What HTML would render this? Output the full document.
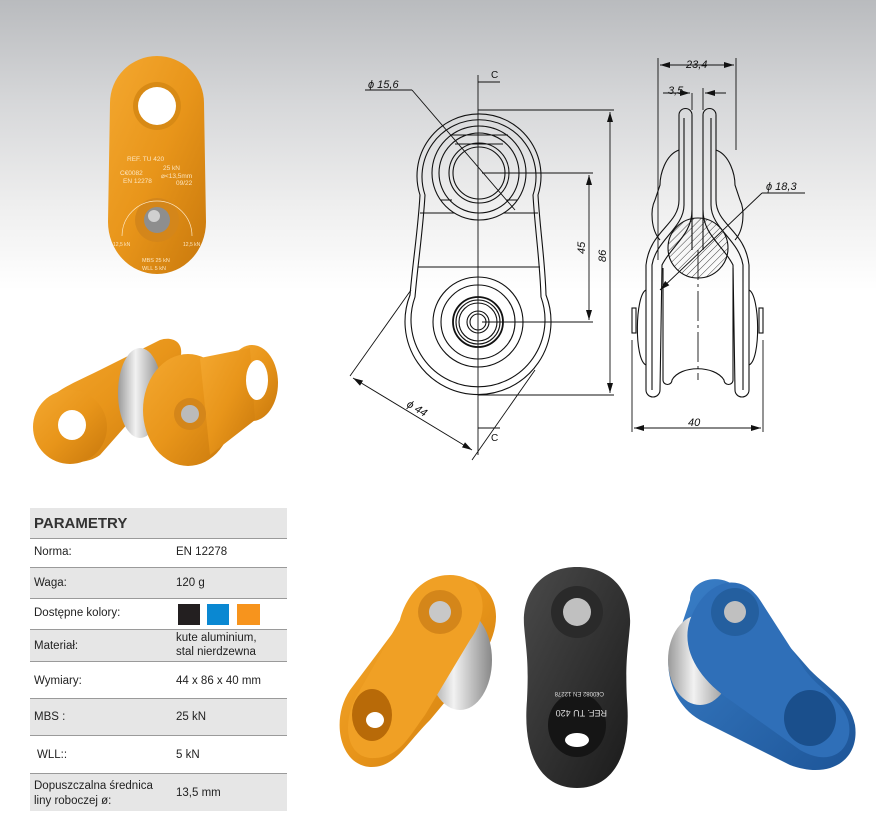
<!DOCTYPE html>
<html><head><meta charset="utf-8"><style>
html,body{margin:0;padding:0}
body{width:876px;height:817px;position:relative;overflow:hidden;background:#fff;font-family:"Liberation Sans",sans-serif}
.bg{position:absolute;left:0;top:0;width:876px;height:290px;background:linear-gradient(#b9bbbe 0%,#d6d7d9 35%,#eeeeee 70%,#ffffff 100%)}
svg{position:absolute;left:0;top:0}
.tbl{position:absolute;left:30px;top:508px;width:257px}
.r{position:absolute;left:0;width:257px;border-bottom:1px solid #9a9a9a;font-size:11.5px;color:#222}
.g{background:#e6e6e6}
.l{position:absolute;left:4px}
.v{position:absolute;left:146px}
</style></head><body>
<div class="bg"></div>
<svg width="876" height="817" viewBox="0 0 876 817">
<defs>
<linearGradient id="og" x1="0" y1="0" x2="1" y2="1"><stop offset="0" stop-color="#f4a830"/><stop offset="0.5" stop-color="#e8951a"/><stop offset="1" stop-color="#c8780c"/></linearGradient>
<linearGradient id="sg" x1="0" y1="0" x2="1" y2="0"><stop offset="0" stop-color="#9a9a9a"/><stop offset="0.4" stop-color="#f2f2f2"/><stop offset="1" stop-color="#888"/></linearGradient>
<linearGradient id="bg2" x1="0" y1="0" x2="1" y2="1"><stop offset="0" stop-color="#4a4a4a"/><stop offset="1" stop-color="#1a1a1a"/></linearGradient>
<linearGradient id="blg" x1="0" y1="0" x2="1" y2="1"><stop offset="0" stop-color="#3a7fc8"/><stop offset="1" stop-color="#1d5598"/></linearGradient>
<pattern id="hatch" width="5" height="5" patternUnits="userSpaceOnUse" patternTransform="rotate(45)"><line x1="0" y1="0" x2="0" y2="5" stroke="#111" stroke-width="0.8"/></pattern>
<marker id="ar" viewBox="0 0 10 6" refX="10" refY="3" markerWidth="10" markerHeight="6" orient="auto-start-reverse" markerUnits="userSpaceOnUse"><path d="M0,0 L10,3 L0,6z" fill="#111"/></marker>
</defs>

<!-- top orange pulley -->
<path d="M110,103 A47,47 0 0 1 204,103 L206,222 A49,52 0 0 1 108,222 Z" fill="url(#og)"/>
<circle cx="157" cy="106" r="24" fill="#d88a15"/>
<circle cx="157" cy="106" r="19" fill="#fff"/>
<circle cx="157" cy="220" r="22" fill="#d4861a"/>
<circle cx="157" cy="220" r="13" fill="#8e8e8e"/><circle cx="154" cy="216" r="6" fill="#d0d0d0"/>
<g fill="#fde6c0" font-size="6.5"><text x="127" y="161">REF. TU 420</text><text x="120" y="175">C€0082</text><text x="163" y="170">25 kN</text><text x="161" y="178">⌀&lt;13,5mm</text><text x="123" y="183">EN 12278</text><text x="176" y="185">09/22</text><text x="113" y="246" font-size="5">12,5 kN</text><text x="183" y="246" font-size="5">12,5 kN</text><text x="142" y="262" font-size="5.5">MBS 25 kN</text><text x="142" y="270" font-size="5.5">WLL 5 kN</text></g>
<path d="M122,236 A35,35 0 0 1 192,236" fill="none" stroke="#fde6c0" stroke-width="0.7"/>

<!-- side orange pulley -->
<path d="M40,420 C40,395 70,385 100,370 L160,340 C175,335 190,345 175,370 L100,455 C80,470 40,460 40,430Z" fill="url(#og)"/>
<circle cx="70" cy="427" r="37" fill="url(#og)"/>
<ellipse cx="72" cy="425" rx="14" ry="15" fill="#fff"/>
<ellipse cx="140" cy="393" rx="22" ry="45" fill="url(#sg)"/>
<ellipse cx="252" cy="383" rx="26" ry="38" fill="url(#og)"/>
<ellipse cx="188" cy="410" rx="45" ry="56" fill="url(#og)"/>
<path d="M200,358 L250,348 L255,420 L210,455Z" fill="url(#og)"/>
<ellipse cx="257" cy="380" rx="11" ry="20" fill="#fff"/>
<circle cx="190" cy="414" r="16" fill="#d4861a"/><circle cx="190" cy="414" r="9" fill="#bbb"/>

<!-- bottom orange -->
<path d="M350,690 C330,720 340,765 370,767 C395,768 405,745 430,720 L480,660 C505,625 500,590 470,580 C440,570 420,590 410,610Z" fill="url(#og)"/>
<ellipse cx="460" cy="660" rx="32" ry="50" fill="url(#sg)"/>
<path d="M360,690 C340,720 345,760 375,758 C400,757 410,735 425,715 L470,640 C495,605 480,575 450,575 C420,575 405,600 400,620Z" fill="#f0a025"/>
<circle cx="440" cy="612" r="22" fill="#d4861a"/><circle cx="440" cy="612" r="11" fill="#c8c8c8"/>
<ellipse cx="372" cy="715" rx="20" ry="26" fill="#b86a08"/>
<ellipse cx="375" cy="720" rx="9" ry="8" fill="#fff"/>
<!-- black -->
<path d="M577,567 C610,567 632,590 630,625 C628,650 625,660 627,700 C632,760 610,788 577,788 C544,788 522,760 527,700 C529,660 526,650 524,625 C522,590 544,567 577,567Z" fill="url(#bg2)"/>
<circle cx="577" cy="612" r="26" fill="#2a2a2a"/><circle cx="577" cy="612" r="14" fill="#c0c0c0"/>
<ellipse cx="577" cy="725" rx="29" ry="32" fill="#151515"/>
<ellipse cx="577" cy="740" rx="12" ry="7" fill="#fff"/>
<g fill="#ddd" font-size="9" transform="rotate(180 577 670)"><text x="547" y="630">REF. TU 420</text><text x="550" y="648" font-size="6">C€0082  EN 12278</text></g>
<!-- blue -->
<path d="M680,630 C660,650 665,700 700,720 L790,765 C830,780 860,760 855,725 C850,700 830,690 810,670 L740,590 C720,570 690,580 690,600Z" fill="url(#blg)"/>
<ellipse cx="700" cy="660" rx="32" ry="45" fill="url(#sg)"/>
<path d="M690,620 C680,650 700,680 730,700 L800,750 C835,770 855,745 848,720 C842,700 820,690 805,670 L760,600 C740,570 705,580 690,620Z" fill="#2f6fb8"/>
<circle cx="735" cy="612" r="24" fill="#245f9f"/><circle cx="735" cy="612" r="11" fill="#c0c0c0"/>
<ellipse cx="810" cy="718" rx="26" ry="28" fill="#1a4f8c"/>

<!-- front view drawing -->
<g fill="none" stroke="#111" stroke-width="1.1">
<path d="M420,195 A62,62 0 1 1 538,195 C540,230 545,260 546,295 A73,73 0 1 1 410,295 C413,260 418,230 420,195Z"/>
<path d="M425,195 A57,57 0 1 1 533,195 C535,230 540,262 541,297 A67,67 0 1 1 415,297 C418,262 423,230 425,195Z"/>
<circle cx="479" cy="173" r="47"/><circle cx="479" cy="173" r="40"/><circle cx="479" cy="173" r="26"/><circle cx="479" cy="173" r="30"/>
<path d="M420,213 L455,213 M503,213 L538,213 M441,200 L452,200 M506,200 L517,200 M450,135 L508,135 M455,144 L503,144"/>
<line x1="418" y1="267" x2="540" y2="267"/>
<circle cx="478" cy="322" r="45"/><circle cx="478" cy="322" r="37"/><circle cx="478" cy="322" r="25" stroke-width="1.8"/><circle cx="478" cy="322" r="22"/><circle cx="478" cy="322" r="19"/><circle cx="478" cy="322" r="11"/><circle cx="478" cy="322" r="8"/>
</g>
<g stroke="#111" stroke-width="0.9" fill="none">
<line x1="478" y1="75" x2="478" y2="455"/>
<line x1="478" y1="82" x2="500" y2="82"/><line x1="478" y1="428" x2="500" y2="428"/>
<line x1="365" y1="90" x2="412" y2="90"/><line x1="412" y1="90" x2="515" y2="210"/>
<line x1="478" y1="110" x2="614" y2="110"/><line x1="478" y1="395" x2="614" y2="395"/>
<line x1="610" y1="112" x2="610" y2="393" marker-start="url(#ar)" marker-end="url(#ar)"/>
<line x1="482" y1="173" x2="593" y2="173"/><line x1="482" y1="322" x2="593" y2="322"/>
<line x1="589" y1="175" x2="589" y2="320" marker-start="url(#ar)" marker-end="url(#ar)"/>
<line x1="411" y1="290" x2="350" y2="376"/><line x1="535" y1="370" x2="472" y2="460"/>
<line x1="353" y1="378" x2="472" y2="450" marker-start="url(#ar)" marker-end="url(#ar)"/>
</g>
<g font-size="11" font-style="italic" fill="#111">
<text x="368" y="88">ϕ 15,6</text>
<text x="491" y="78" font-style="normal" font-size="10">C</text><text x="491" y="441" font-style="normal" font-size="10">C</text>
<text transform="translate(606,262) rotate(-90)">86</text>
<text transform="translate(585,254) rotate(-90)">45</text>
<text transform="translate(406,406) rotate(31)">ϕ 44</text>
<text x="686" y="68">23,4</text><text x="668" y="94">3,5</text><text x="766" y="190">ϕ 18,3</text><text x="688" y="426">40</text>
</g>

<!-- side view drawing -->
<g fill="none" stroke="#111" stroke-width="1.1">
<path d="M679,115 A6,6 0 0 1 692,115 L692,210 C692,235 672,245 662,265 L660,390 A6,6 0 0 1 646,390 L646,265 C650,230 679,225 679,200Z"/>
<path d="M716,115 A6,6 0 0 0 703,115 L703,210 C703,235 723,245 733,265 L735,390 A6,6 0 0 0 749,390 L749,265 C745,230 716,225 716,200Z"/>
<path d="M684,118 L684,205 C684,228 656,240 652,265 L652,390 M711,118 L711,205 C711,228 739,240 743,265 L743,390"/>
<path d="M679,150 C665,155 660,175 660,185 L655,200 C650,210 651,230 660,240 M716,150 C730,155 735,175 735,185 L740,200 C745,210 744,230 735,240"/>
<path d="M663,268 L663,380 A4,4 0 0 0 672,380 C680,365 715,365 724,380 A4,4 0 0 0 733,380 L733,268"/>
<path d="M646,290 C635,295 634,360 646,365 M749,290 C760,295 761,360 749,365"/>
<rect x="632" y="308" width="4" height="25"/><rect x="759" y="308" width="4" height="25"/>
<path d="M692,250 L692,210 M703,250 L703,210"/>
</g>
<circle cx="698" cy="248" r="30" fill="url(#hatch)" stroke="#111" stroke-width="1.1"/>
<g stroke="#111" stroke-width="0.9" fill="none">
<line x1="698" y1="250" x2="698" y2="380" stroke-dasharray="30,4,3,4"/>
<line x1="658" y1="58" x2="658" y2="260"/><line x1="736" y1="58" x2="736" y2="150"/>
<line x1="660" y1="65" x2="734" y2="65" marker-start="url(#ar)" marker-end="url(#ar)"/>
<line x1="663" y1="93" x2="690" y2="93" marker-end="url(#ar)"/><line x1="726" y1="93" x2="705" y2="93" marker-end="url(#ar)"/>
<line x1="692" y1="93" x2="692" y2="110"/><line x1="703" y1="88" x2="703" y2="110"/>
<line x1="805" y1="193" x2="762" y2="193"/><line x1="762" y1="193" x2="660" y2="290" marker-end="url(#ar)"/>
<line x1="632" y1="340" x2="632" y2="432"/><line x1="763" y1="340" x2="763" y2="432"/>
<line x1="634" y1="428" x2="761" y2="428" marker-start="url(#ar)" marker-end="url(#ar)"/>
</g>
</svg>

<div class="tbl">
<div class="r g" style="top:0;height:30px"><span class="l" style="top:7px;font-size:15px;font-weight:bold;color:#333">PARAMETRY</span></div>
<div class="r" style="top:30px;height:29px"><span class="l" style="top:8px">Norma:</span><span class="v" style="top:8px">EN 12278</span></div>
<div class="r g" style="top:60px;height:30px"><span class="l" style="top:9px">Waga:</span><span class="v" style="top:9px">120 g</span></div>
<div class="r" style="top:91px;height:30px"><span class="l" style="top:8px">Dostępne kolory:</span>
<span style="position:absolute;left:148px;top:5px;width:22px;height:21px;background:#231f20"></span>
<span style="position:absolute;left:177px;top:5px;width:22px;height:21px;background:#0a88d2"></span>
<span style="position:absolute;left:207px;top:5px;width:23px;height:21px;background:#f7941d"></span></div>
<div class="r g" style="top:122px;height:31px"><span class="l" style="top:10px">Materiał:</span><span class="v" style="top:1px;line-height:14px">kute aluminium,<br>stal nierdzewna</span></div>
<div class="r" style="top:154px;height:36px"><span class="l" style="top:13px">Wymiary:</span><span class="v" style="top:13px">44 x 86 x 40 mm</span></div>
<div class="r g" style="top:191px;height:36px"><span class="l" style="top:12px">MBS :</span><span class="v" style="top:12px">25 kN</span></div>
<div class="r" style="top:228px;height:37px"><span class="l" style="top:13px;left:7px">WLL::</span><span class="v" style="top:13px">5 kN</span></div>
<div class="r g" style="top:266px;height:37px;border-bottom:none"><span class="l" style="top:5px;line-height:15px">Dopuszczalna średnica<br>liny roboczej ø:</span><span class="v" style="top:13px">13,5 mm</span></div>
</div>
</body></html>
